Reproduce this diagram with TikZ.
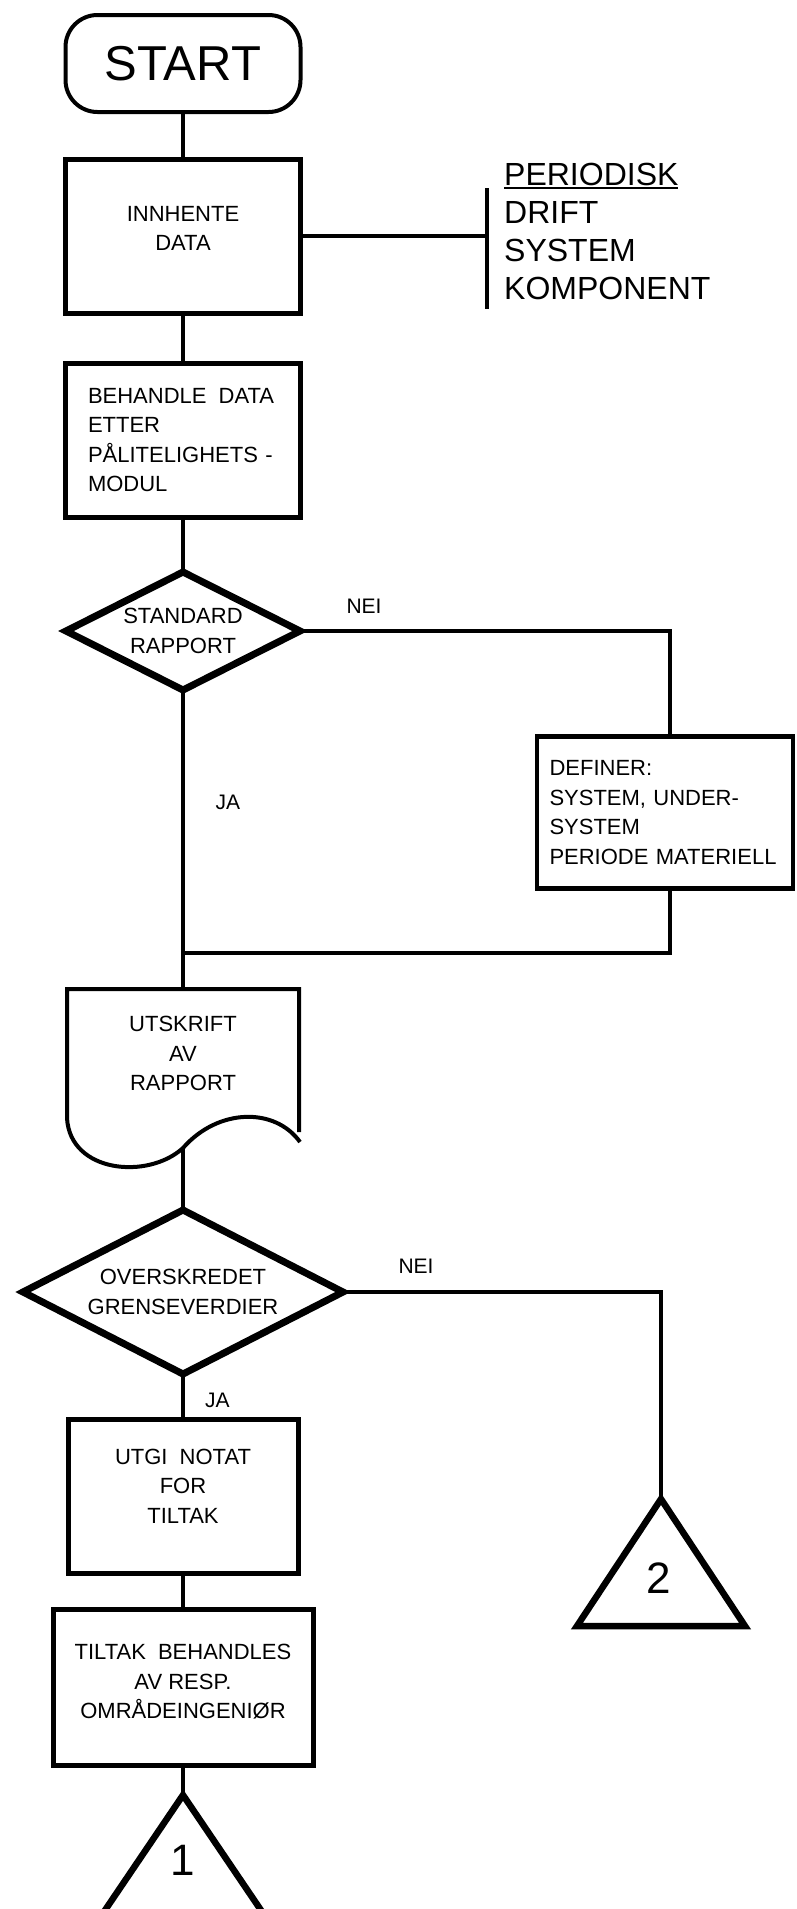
\documentclass[tikz,border=0pt]{standalone}
\usepackage{fontspec}
\setmainfont{Liberation Sans}
\usetikzlibrary{shapes.geometric,positioning}
\newcommand{\flowfont}{\fontsize{22}{29.5}\selectfont}
\newcommand{\widesp}{\hspace{0.55em}}
\tikzset{startbox/.style={rectangle,rounded corners=32pt,draw=black,line width=4pt,minimum width=235pt,minimum height=97pt,inner sep=0pt,outer sep=0pt,font=\fontsize{49}{49}\selectfont}}
\tikzset{procbox/.style={rectangle,draw=black,line width=5pt,minimum width=235pt,minimum height=154pt,inner sep=0pt,outer sep=0pt,align=center,font=\flowfont}}
\tikzset{decision/.style={diamond,aspect=2,draw=black,line width=7pt,line join=miter,inner sep=0pt,outer sep=0pt,align=center,font=\flowfont}}
\tikzset{docshape/.style={rectangle,minimum width=232pt,minimum height=129pt,inner sep=0pt,outer sep=0pt,align=center,font=\flowfont}}
\tikzset{docline/.style={line width=4pt,line join=miter}}
\tikzset{bracket/.style={rectangle,minimum width=0pt,minimum height=121pt,inner sep=0pt,outer sep=0pt}}
\tikzset{notelist/.style={anchor=north west,align=left,inner sep=0pt,font=\fontsize{32}{38}\selectfont}}
\tikzset{offpage/.style={draw=black,line width=6.5pt,line join=miter}}
\tikzset{pagenum/.style={inner sep=0pt,font=\fontsize{44}{44}\selectfont}}
\tikzset{lbl/.style={inner sep=0pt,font=\fontsize{21}{21}\selectfont}}
\tikzset{link/.style={-,line width=4pt}}

\begin{document}
\begin{tikzpicture}[x=1pt,y=-1pt]
\useasboundingbox (0,0) rectangle (796,1909);
\clip (0,0) rectangle (796,1909);
\begin{scope}
	% main column
	\node (start) [startbox] at (183,63.5) {START};
	\node (collect) [procbox, text depth=15pt, below=47pt of start] {INNHENTE\\DATA} edge [link] (start);
	\node (process) [procbox, align=left, text width=190pt, below=50pt of collect] {BEHANDLE\widesp DATA\\ETTER\\PÅLITELIGHETS -\\MODUL} edge [link] (collect);
	\node (stdreport) [decision, minimum width=234pt, minimum height=118pt, below=55pt of process] {STANDARD\\RAPPORT} edge [link] (process);
	\node (report) [docshape, below=299pt of stdreport] {UTSKRIFT\\AV\\RAPPORT} edge [link] (stdreport);
	\node (printfoot) [coordinate] at ([yshift=-30pt]report.south) {};
	\node (limits) [decision, minimum width=320pt, minimum height=164pt, below=92pt of report] {OVERSKREDET\\GRENSEVERDIER};
	\node (memo) [procbox, minimum width=230pt, text depth=20pt, below=45pt of limits] {UTGI\widesp NOTAT\\FOR\\TILTAK} edge [link] (limits);
	\node (action) [procbox, minimum width=260pt, minimum height=156pt, text depth=11pt, below=36pt of memo] {TILTAK\widesp BEHANDLES\\AV RESP.\\OMRÅDEINGENIØR} edge [link] (memo);
	\node (tri1top) [coordinate, below=30pt of action] {};
	% periodic note
	\node (annot) [bracket, right=186pt of collect.east, yshift=-12.5pt] {};
	\node (periods) [notelist] at ([xshift=17.5pt,yshift=25pt]annot.north) {PERIODISK\\DRIFT\\SYSTEM\\KOMPONENT};
	% NEI branches
	\node (define) [procbox, line width=4.5pt, minimum width=256pt, minimum height=152pt, align=left, text width=231pt, below right=105.5pt and 237pt of stdreport.east] {DEFINER:\\SYSTEM, UNDER-\\SYSTEM\\PERIODE MATERIELL};
	\node (merge) [coordinate] at ([yshift=-263pt]stdreport.south) {};
	\node (tri2top) [coordinate] at ([xshift=318pt,yshift=-207pt]limits.east) {};
	\node (nei1) [lbl] at ([xshift=64pt,yshift=25pt]stdreport.east) {NEI};
	\node (ja1) [lbl] at ([xshift=45pt,yshift=-112pt]stdreport.south) {JA};
	\node (nei2) [lbl] at ([xshift=73pt,yshift=26pt]limits.east) {NEI};
	\node (ja2) [lbl] at ([xshift=34.5pt,yshift=-26pt]limits.south) {JA};
\end{scope}
\draw [line width=2pt] ([yshift=-25pt]periods.north west) -- +(174,0);
\draw [link] (collect.east) -- (collect.east -| annot.west);
\draw [link] (annot.north) -- (annot.south);
\draw [docline] ([yshift=-14pt]report.south east) -- (report.north east) -- (report.north west) -- (report.south west) .. controls +(3,55) and +(-35,32) .. (printfoot) .. controls +(35,-40) and +(-25,-35) .. ([xshift=1pt,yshift=-24pt]report.south east);
\draw [link] (printfoot) -- (limits);
\draw [link] (stdreport.east) -| ([xshift=5pt]define.north);
\draw [link] ([xshift=5pt]define.south) |- (merge);
\draw [link] (limits.east) -| (tri2top);
\draw [link] (action) -- (tri1top);
% off-page connectors
\draw [offpage] (tri1top) -- ++(-88,130) -- ++(176,0) -- cycle;
\node (one) [pagenum] at ([yshift=-65pt]tri1top) {1};
\draw [offpage] (tri2top) -- ++(-84,127) -- ++(168,0) -- cycle;
\node (two) [pagenum] at ([xshift=-2pt,yshift=-79pt]tri2top) {2};
\end{tikzpicture}
\end{document}
